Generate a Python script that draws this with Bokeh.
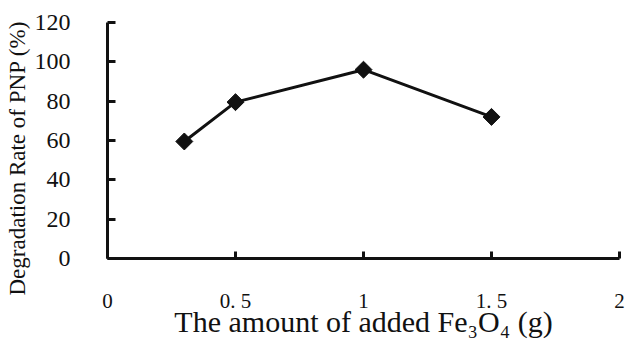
import numpy as np
from bokeh.plotting import figure
from bokeh.models import Range1d, FixedTicker, Title
from bokeh.embed import file_html
from bokeh.resources import INLINE

# data
fe3o4_g = [0.3, 0.5, 1.0, 1.5]
degradation_pct = [59.5, 79.5, 96.0, 72.0]
x_ticks = [0, 0.5, 1, 1.5, 2]
x_tick_labels = ["0", "0. 5", "1", "1. 5", "2"]
y_ticks = [0, 20, 40, 60, 80, 100, 120]
x_title = "The amount of added Fe\u2083O\u2084 (g)"
y_title = "Degradation Rate of PNP (%)"

INK = "#111111"
SERIF = "Liberation Serif"

p = figure(width=627, height=347, output_backend="svg", toolbar_location=None,
           x_range=Range1d(0, 2), y_range=Range1d(0, 120),
           min_border_left=107, min_border_right=8, min_border_top=22,
           min_border_bottom=89)
p.grid.visible = False
p.outline_line_color = None
p.background_fill_color = "white"
p.border_fill_color = "white"

p.line(fe3o4_g, degradation_pct, line_color=INK, line_width=3)
p.scatter(fe3o4_g, degradation_pct, marker="square", angle=np.pi / 4, size=12,
          fill_color=INK, line_color=INK)

xa = p.xaxis[0]
xa.ticker = FixedTicker(ticks=x_ticks)
xa.major_label_overrides = {t: l for t, l in zip(x_ticks, x_tick_labels)}
xa.axis_line_width = 3
xa.axis_line_color = INK
xa.major_tick_in = 7
xa.major_tick_out = 0
xa.major_tick_line_width = 3
xa.major_tick_line_color = INK
xa.minor_tick_line_color = None
xa.major_label_text_font = SERIF
xa.major_label_text_font_size = "21px"
xa.major_label_text_color = INK
xa.major_label_standoff = 30
xa.axis_label = x_title
xa.axis_label_text_font = SERIF
xa.axis_label_text_font_size = "30px"
xa.axis_label_text_font_style = "normal"
xa.axis_label_text_color = INK
xa.axis_label_standoff = -11

ya = p.yaxis[0]
ya.ticker = FixedTicker(ticks=y_ticks)
ya.axis_line_width = 3
ya.axis_line_color = INK
ya.major_tick_in = 8
ya.major_tick_out = 0
ya.major_tick_line_width = 3
ya.major_tick_line_color = INK
ya.minor_tick_line_color = None
ya.major_label_text_font = SERIF
ya.major_label_text_font_size = "24px"
ya.major_label_text_color = INK
ya.major_label_standoff = 37

p.add_layout(Title(text=y_title, align="left", offset=-37, standoff=4,
                   text_font=SERIF, text_font_size="23px",
                   text_font_style="normal", text_color=INK), "left")

open("out.html", "w").write(file_html(p, INLINE))
